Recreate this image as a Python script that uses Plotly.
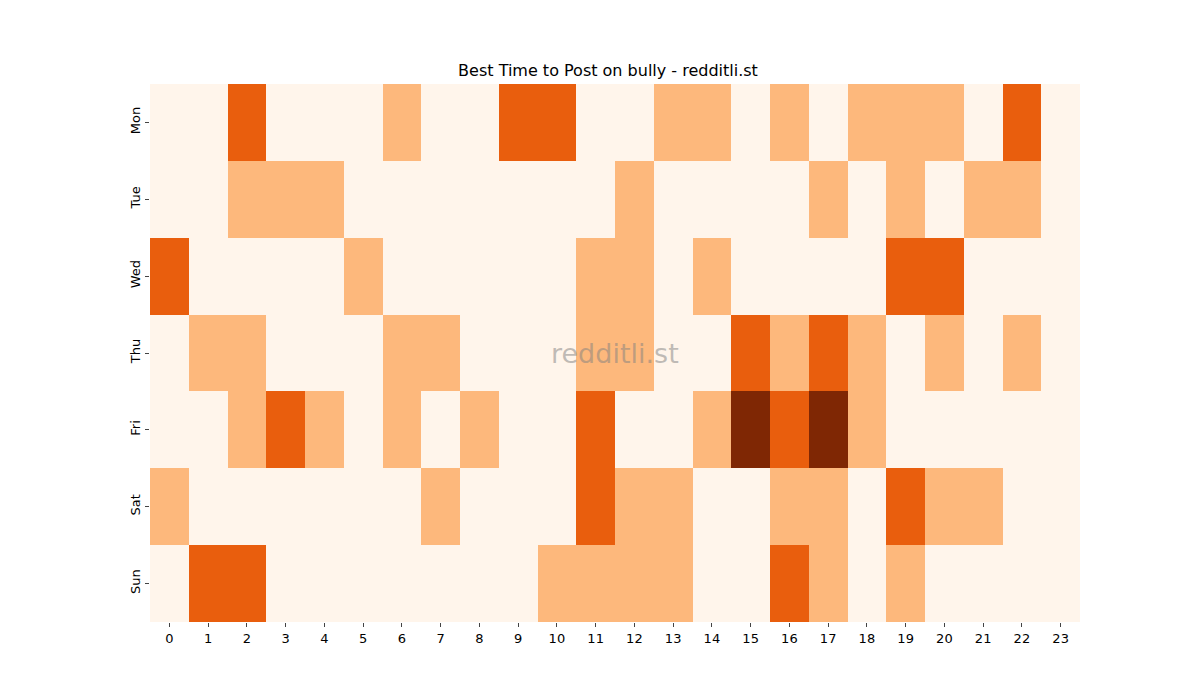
import plotly.graph_objects as go

hours = list(range(24))
days = ["Mon", "Tue", "Wed", "Thu", "Fri", "Sat", "Sun"]

# activity level per day (rows) and hour (cols), 0..3
mon = [0, 0, 2, 0, 0, 0, 1, 0, 0, 2, 2, 0, 0, 1, 1, 0, 1, 0, 1, 1, 1, 0, 2, 0]
tue = [0, 0, 1, 1, 1, 0, 0, 0, 0, 0, 0, 0, 1, 0, 0, 0, 0, 1, 0, 1, 0, 1, 1, 0]
wed = [2, 0, 0, 0, 0, 1, 0, 0, 0, 0, 0, 1, 1, 0, 1, 0, 0, 0, 0, 2, 2, 0, 0, 0]
thu = [0, 1, 1, 0, 0, 0, 1, 1, 0, 0, 0, 1, 1, 0, 0, 2, 1, 2, 1, 0, 1, 0, 1, 0]
fri = [0, 0, 1, 2, 1, 0, 1, 0, 1, 0, 0, 2, 0, 0, 1, 3, 2, 3, 1, 0, 0, 0, 0, 0]
sat = [1, 0, 0, 0, 0, 0, 0, 1, 0, 0, 0, 2, 1, 1, 0, 0, 1, 1, 0, 2, 1, 1, 0, 0]
sun = [0, 2, 2, 0, 0, 0, 0, 0, 0, 0, 1, 1, 1, 1, 0, 0, 2, 1, 0, 1, 0, 0, 0, 0]

z = [mon, tue, wed, thu, fri, sat, sun]

scale = [[0, "#fff5eb"], [1 / 3, "#fdb87c"], [2 / 3, "#e95e0d"], [1, "#7f2704"]]

fig = go.Figure(go.Heatmap(z=z, x=hours, y=days, colorscale=scale,
                           zmin=0, zmax=3, showscale=False, xgap=0, ygap=0))

fig.add_annotation(text="redditli.st", x=0.5, y=0.5, xref="paper", yref="paper",
                   showarrow=False,
                   font=dict(size=27, color="rgba(128,128,128,0.5)",
                             family="DejaVu Sans"))

fig.update_layout(
    width=1200, height=700,
    margin=dict(l=142, r=128, t=76, b=86),
    paper_bgcolor="white", plot_bgcolor="white",
    font=dict(family="DejaVu Sans", size=13, color="black"),
    title=dict(text="Best Time to Post on bully - redditli.st", x=0.5,
               xanchor="center", y=0.903, yanchor="bottom",
               font=dict(size=16)),
    xaxis=dict(tickmode="array", tickvals=hours, ticks="outside", ticklen=4,
               showgrid=False, zeroline=False, showline=False),
    yaxis=dict(autorange="reversed", ticks="outside", ticklen=4,
               tickangle=-90, showgrid=False, zeroline=False, showline=False),
)

fig.write_html("out.html")
